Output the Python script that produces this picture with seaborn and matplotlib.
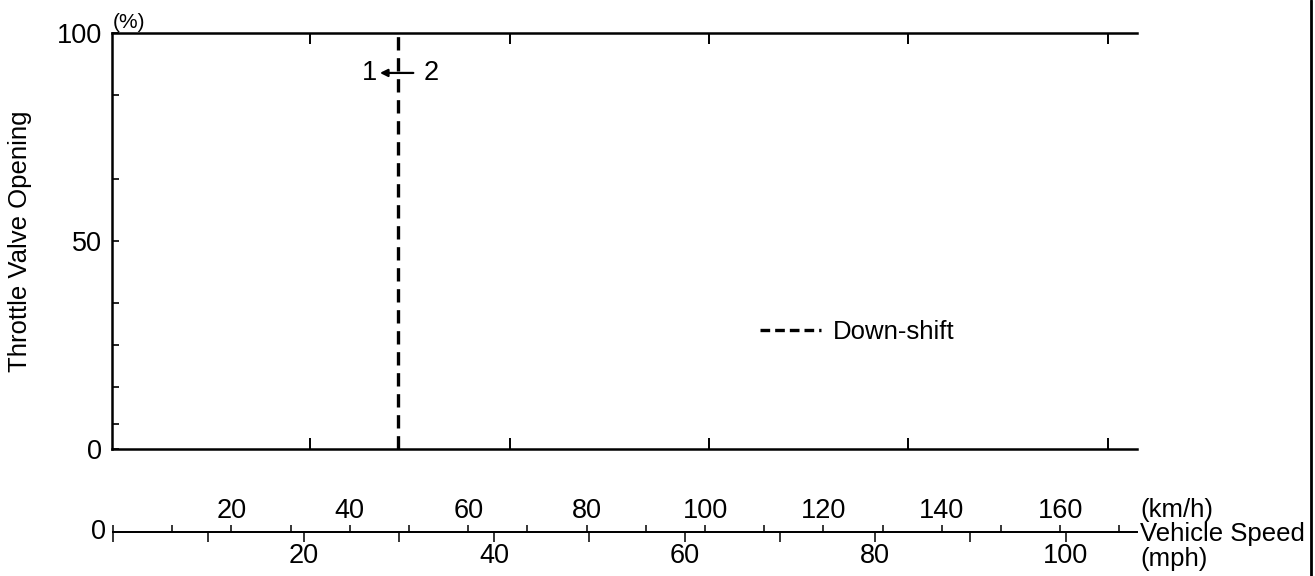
import matplotlib
matplotlib.use("Agg")
import matplotlib.pyplot as plt
import pandas as pd
import seaborn as sns
from matplotlib.lines import Line2D

# shift point data (speed in mph, throttle in %)
throttle_pct = [0, 100]
downshift_1_2_mph = [30, 30]
series_name = "Down-shift"

# axis scales
MPH_TO_KMH = 1.609
speed_max_mph = 107.5
throttle_major = [0, 50, 100]
throttle_minor = [6, 15, 25, 35, 65, 85]
grid_ticks_mph = [20.8, 41.7, 62.6, 83.5, 104.5]
kmh_major = [0, 20, 40, 60, 80, 100, 120, 140, 160]
kmh_minor = [10, 30, 50, 70, 90, 110, 130, 150, 170]
mph_major = [0, 20, 40, 60, 80, 100]
mph_minor = [10, 30, 50, 70, 90]

sns.set_theme(style="ticks")
INK = "black"
plt.rcParams["font.family"] = ["Liberation Sans", "DejaVu Sans"]
plt.rcParams.update({"text.color": INK, "axes.labelcolor": INK,
                     "xtick.color": INK, "ytick.color": INK})
FS = 18.5
NUM_FS = 19.5

W, H = 1315, 576
fig = plt.figure(figsize=(W / 100, H / 100), dpi=100)
fig.patch.set_facecolor("white")

# main chart
ax = fig.add_axes([112 / W, 1 - 449 / H, 1025 / W, 416 / H])
df = pd.DataFrame({"speed": downshift_1_2_mph, "throttle": throttle_pct})
sns.lineplot(data=df, x="speed", y="throttle", ax=ax, color=INK, linewidth=2.4,
             linestyle=(0, (4.0, 2.3)), estimator=None, sort=False, legend=False)

ax.set_xlim(0, speed_max_mph)
ax.set_ylim(0, 100)
for s in ["left", "bottom", "top"]:
    ax.spines[s].set_color(INK)
    ax.spines[s].set_linewidth(1.8)
ax.spines["right"].set_visible(False)

ax.set_yticks(throttle_major, [str(v) for v in throttle_major])
ax.set_yticks(throttle_minor, minor=True)
ax.tick_params(axis="y", which="both", direction="in", length=5, width=1.2,
               color=INK, labelcolor=INK, labelsize=NUM_FS, pad=7, right=False)
ax.set_xticks(grid_ticks_mph, [""] * len(grid_ticks_mph))
ax.tick_params(axis="x", which="both", direction="in", length=8, width=1.4,
               color=INK, top=True, bottom=True, labelbottom=False, labeltop=False)
ax.set_xlabel("")
ax.set_ylabel("Throttle Valve Opening", fontsize=FS, color=INK)
ax.yaxis.set_label_coords(-0.078, 0.5)
ax.text(0.001, 1.003, "(%)", transform=ax.transAxes, ha="left", va="bottom",
        fontsize=15, color=INK)

# shift direction marker
ax.annotate("", xy=(28.1, 90.4), xytext=(31.6, 90.4),
            arrowprops=dict(arrowstyle="-|>", color=INK, lw=1.6, mutation_scale=11,
                            shrinkA=0, shrinkB=0))
ax.text(27.0, 90.4, "1", ha="center", va="center", fontsize=NUM_FS, color=INK)
ax.text(33.5, 90.4, "2", ha="center", va="center", fontsize=NUM_FS, color=INK)

legend_handle = Line2D([], [], color=INK, linewidth=2.4, linestyle=(0, (2.9, 1.5)))
ax.legend([legend_handle], [series_name], loc="center left",
          bbox_to_anchor=(0.632, 0.281), frameon=False, fontsize=FS,
          handlelength=2.4, handletextpad=0.45, borderpad=0, borderaxespad=0)

# speed scale below the chart: km/h above the line, mph below
pos = [113 / W, 1 - 532 / H, 1024 / W, 0.0001]
axk = fig.add_axes(pos)
axm = fig.add_axes(pos)
for a in (axk, axm):
    a.patch.set_visible(False)
    a.set_yticks([])
    for s in a.spines.values():
        s.set_visible(False)
    a.grid(False)

axk.set_xlim(0, speed_max_mph * MPH_TO_KMH)
axk.spines["top"].set_visible(True)
axk.spines["top"].set_linewidth(1.3)
axk.spines["top"].set_color(INK)
axk.xaxis.set_ticks_position("top")
axk.set_xticks(kmh_major, [""] + [str(v) for v in kmh_major[1:]])
axk.set_xticks(kmh_minor, minor=True)
axk.tick_params(axis="x", which="both", direction="out", length=5, width=1.1,
                color=INK, labelcolor=INK, labelsize=NUM_FS, pad=1, top=True,
                bottom=False, labeltop=True, labelbottom=False)

axm.set_xlim(0, speed_max_mph)
axm.spines["bottom"].set_visible(True)
axm.spines["bottom"].set_linewidth(1.3)
axm.spines["bottom"].set_color(INK)
axm.set_xticks(mph_major, [""] + [str(v) for v in mph_major[1:]])
axm.set_xticks(mph_minor, minor=True)
axm.tick_params(axis="x", which="both", direction="out", length=7, width=1.1,
                color=INK, labelcolor=INK, labelsize=NUM_FS, pad=1, top=False,
                bottom=True)
axm.text(-0.007, 0.0, "0", transform=axm.transAxes, ha="right", va="center",
         fontsize=NUM_FS, color=INK)

fig.text(1140 / W, 1 - 510 / H, "(km/h)", ha="left", va="center", fontsize=FS, color=INK)
fig.text(1140 / W, 1 - 534 / H, "Vehicle Speed", ha="left", va="center", fontsize=FS, color=INK)
fig.text(1140 / W, 1 - 559 / H, "(mph)", ha="left", va="center", fontsize=FS, color=INK)

# page border on the right
fig.add_artist(Line2D([1311 / W, 1311 / W], [0, 1], transform=fig.transFigure,
                      color=INK, lw=2))

fig.savefig("out.png", dpi=100)
